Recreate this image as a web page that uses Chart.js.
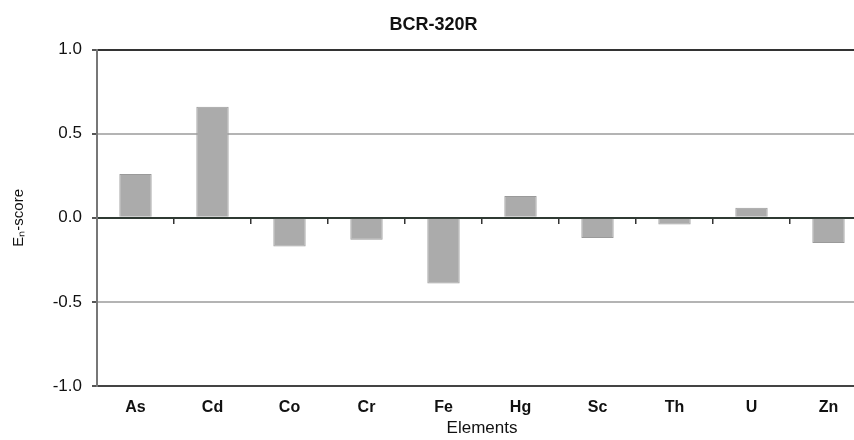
<!DOCTYPE html>
<html>
<head>
<meta charset="utf-8">
<script src="https://cdn.jsdelivr.net/npm/chart.js@4/dist/chart.umd.min.js"></script>
<style>
  html, body { margin: 0; padding: 0; background: #fff; overflow: hidden; }
  #wrap { width: 892px; height: 440px; }
</style>
</head>
<body>
<div id="wrap"><canvas id="chart1" width="892" height="440"></canvas></div>
<script>
const elements = ['As', 'Cd', 'Co', 'Cr', 'Fe', 'Hg', 'Sc', 'Th', 'U', 'Zn'];
const enScores = [0.26, 0.66, -0.17, -0.13, -0.39, 0.13, -0.12, -0.04, 0.06, -0.15];
const yTicks = [-1.0, -0.5, 0.0, 0.5, 1.0];

const font = 'Liberation Sans, Arial, sans-serif';

function gridColor(ctx) {
    const v = ctx.tick ? ctx.tick.value : null;
    if (v === 1 || v === -1) return '#333333';
    if (v === 0) return 'rgba(0,0,0,0)';
    return '#b4b4b4';
}

const ctx = document.querySelector('#chart1').getContext('2d');
new Chart(ctx, {
    type: 'bar',
    data: {
        labels: elements,
        datasets: [{
            label: 'En-score',
            data: enScores,
            backgroundColor: '#ababab',
            borderColor: '#9a9a9a',
            borderWidth: 1,
            barPercentage: 0.42,
            categoryPercentage: 1.0
        }]
    },
    options: {
        responsive: false,
        animation: false,
        layout: { padding: { left: 0, right: 25, top: 0, bottom: 0 } },
        plugins: {
            legend: { display: false },
            tooltip: { enabled: false },
            title: {
                display: true,
                text: 'BCR-320R',
                color: '#111',
                font: { family: font, size: 18, weight: 'bold' },
                padding: { top: 14, bottom: 14 }
            }
        },
        scales: {
            x: {
                offset: true,
                afterFit: scale => { scale.height = 54; },
                grid: { drawOnChartArea: false, drawTicks: false },
                border: { display: true, color: '#444', width: 2 },
                ticks: {
                    color: '#111',
                    padding: 12,
                    font: { family: font, size: 16, weight: 'bold' }
                },
                title: {
                    display: true,
                    text: 'Elements',
                    color: '#111',
                    font: { family: font, size: 17 },
                    padding: { top: 2, bottom: 1 }
                }
            },
            x2: {
                type: 'category',
                labels: elements,
                position: { y: 0 },
                offset: true,
                grid: {
                    offset: true,
                    drawOnChartArea: false,
                    drawTicks: true,
                    tickLength: 5,
                    color: '#333',
                    lineWidth: 1.5
                },
                border: { display: true, color: '#2f3a33', width: 2 },
                ticks: { display: false }
            },
            y: {
                min: -1,
                max: 1,
                afterBuildTicks: scale => {
                    scale.ticks = yTicks.map(v => ({ value: v }));
                },
                afterFit: scale => { scale.width = 97; },
                grid: {
                    color: gridColor,
                    lineWidth: 2,
                    tickColor: '#555',
                    tickLength: 5
                },
                border: { display: true, color: '#777', width: 2 },
                ticks: {
                    color: '#111',
                    padding: 10,
                    font: { family: font, size: 17 },
                    callback: v => Number(v).toFixed(1)
                },
                title: {
                    display: true,
                    text: 'E\u2099-score',
                    color: '#111',
                    font: { family: font, size: 15 },
                    padding: { top: 10, bottom: 0 }
                }
            }
        }
    }
});
</script>
</body>
</html>
